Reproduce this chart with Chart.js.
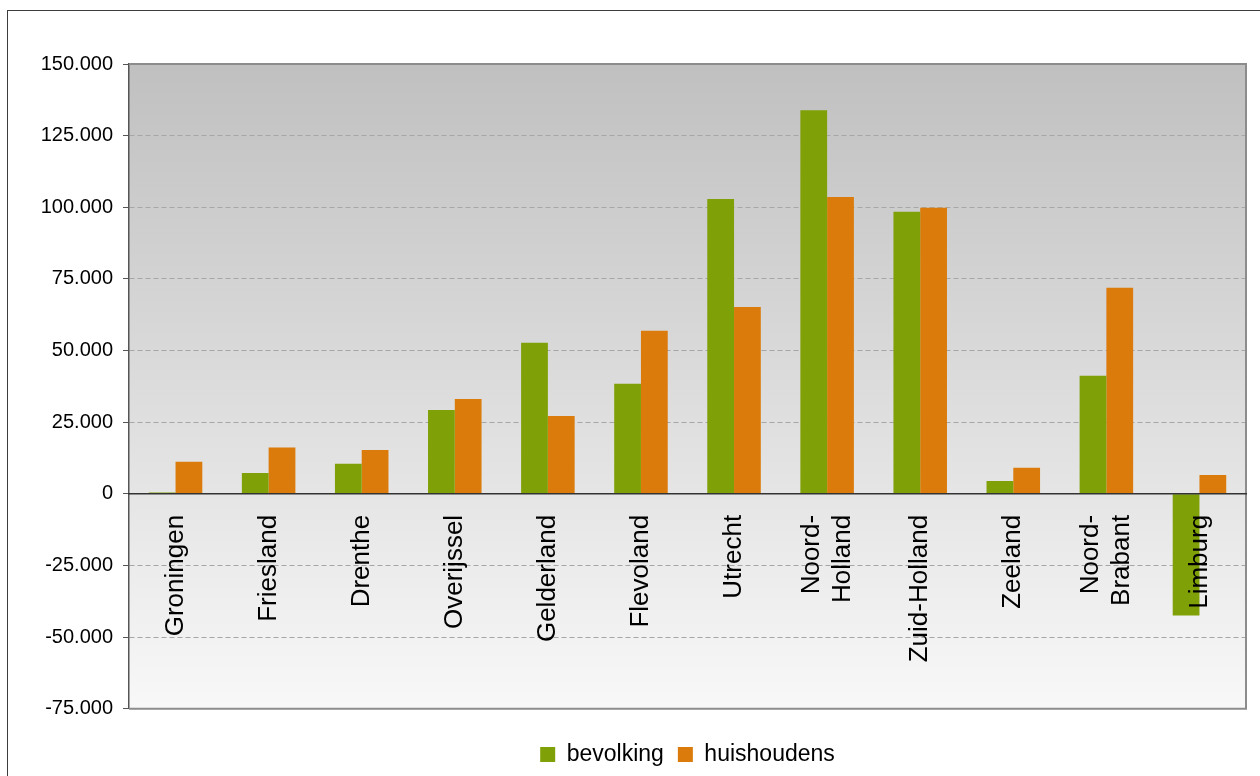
<!DOCTYPE html>
<html>
<head>
<meta charset="utf-8">
<script src="https://cdn.jsdelivr.net/npm/chart.js@4/dist/chart.umd.min.js"></script>
<style>
  html, body { margin: 0; padding: 0; background: #fff; overflow: hidden; }
  #frame { position: absolute; left: 7px; top: 10px; width: 1300px; height: 800px; border: 1px solid #3c3c3c; }
  #groeiChart { position: absolute; left: 0; top: 0; }
</style>
</head>
<body>
<div id="frame"></div>
<canvas id="groeiChart" width="1260" height="776"></canvas>

<script>
// provincies (two-line names are split in arrays)
var provincies = ["Groningen", "Friesland", "Drenthe", "Overijssel", "Gelderland", "Flevoland",
                  "Utrecht", ["Noord-", "Holland"], "Zuid-Holland", "Zeeland", ["Noord-", "Brabant"], "Limburg"];

var bevolking   = [500, 7300, 10500, 29300, 52700, 38400, 102900, 133900, 98400, 4500, 41200, -42400];
var huishoudens = [11200, 16200, 15300, 33100, 27200, 56900, 65200, 103600, 99800, 9100, 71900, 6600];

var yMin = -75000;
var yMax = 150000;
var yStep = 25000;

var labelFont = '26px "Liberation Sans", Arial, sans-serif';
var labelLineHeight = 31;

function formatNL(v) {
    var s = Math.abs(v).toString().replace(/\B(?=(\d{3})+(?!\d))/g, ".");
    return (v < 0 ? "-" : "") + s;
}

// grey gradient behind the plot, then the grey frame on top of the grid
var plotBackground = {
    id: 'plotBackground',
    beforeDraw: function (chart) {
        var a = chart.chartArea, ctx = chart.ctx;
        var g = ctx.createLinearGradient(0, a.top, 0, a.bottom);
        g.addColorStop(0, '#c0c0c0');
        g.addColorStop(1, '#f8f8f8');
        ctx.save();
        ctx.fillStyle = g;
        ctx.fillRect(a.left, a.top, a.right - a.left, a.bottom - a.top);
        ctx.restore();
    },
    beforeDatasetsDraw: function (chart) {
        var a = chart.chartArea, ctx = chart.ctx;
        ctx.save();
        ctx.strokeStyle = '#8c8c8c';
        ctx.lineWidth = 2;
        ctx.beginPath();
        ctx.moveTo(a.left, a.top);
        ctx.lineTo(a.right, a.top);
        ctx.lineTo(a.right, a.bottom);
        ctx.lineTo(a.left, a.bottom);
        ctx.stroke();
        ctx.restore();
    }
};

// province names hang under the zero line, rotated, lines centred on the category
var provinceLabels = {
    id: 'provinceLabels',
    afterDraw: function (chart) {
        var x = chart.scales.x, y = chart.scales.y, ctx = chart.ctx;
        var top = y.getPixelForValue(0) + 21;
        ctx.save();
        ctx.font = labelFont;
        ctx.fillStyle = '#000';
        ctx.textAlign = 'right';
        ctx.textBaseline = 'middle';
        chart.data.labels.forEach(function (lbl, i) {
            var lines = Array.isArray(lbl) ? lbl : [lbl];
            var cx = x.getPixelForTick(i);
            lines.forEach(function (line, j) {
                var off = (j - (lines.length - 1) / 2) * labelLineHeight;
                ctx.save();
                ctx.translate(cx + off, top);
                ctx.rotate(-Math.PI / 2);
                ctx.fillText(line, 0, 0);
                ctx.restore();
            });
        });
        ctx.restore();
    }
};

var chart = document.getElementById('groeiChart').getContext('2d');

var barChart = new Chart(chart, {
    type: 'bar',
    data: {
        labels: provincies,
        datasets: [
            {
                label: "bevolking",
                backgroundColor: "#7fa006",
                data: bevolking
            },
            {
                label: "huishoudens",
                backgroundColor: "#db7b0b",
                data: huishoudens
            }
        ]
    },
    options: {
        responsive: false,
        animation: false,
        layout: { padding: { top: 64, right: 14, left: 0, bottom: 0 } },
        datasets: {
            bar: { categoryPercentage: 0.575, barPercentage: 1.0 }
        },
        scales: {
            x: {
                position: { y: 0 },
                grid: { display: false, drawTicks: false },
                border: { display: true, color: '#333333', width: 1.5, z: 1 },
                ticks: { display: false }
            },
            y: {
                min: yMin,
                max: yMax,
                afterFit: function (scale) { scale.width = 129; },
                grid: {
                    color: '#a6a6a6',
                    lineWidth: 1,
                    tickLength: 6,
                    tickColor: '#555555',
                    tickBorderDash: [0]
                },
                border: { display: true, color: '#555555', width: 1.5, dash: [5, 3] },
                ticks: {
                    stepSize: yStep,
                    padding: 10,
                    color: '#000',
                    font: { family: 'Liberation Sans, Arial, sans-serif', size: 20 },
                    callback: function (value) { return formatNL(value); }
                }
            }
        },
        plugins: {
            tooltip: { enabled: false },
            legend: {
                display: true,
                position: 'bottom',
                fullSize: false,
                title: { display: true, text: '', font: { size: 1 }, padding: { top: 19, bottom: 0 } },
                labels: {
                    boxWidth: 15,
                    boxHeight: 15,
                    padding: 14,
                    color: '#000',
                    font: { family: 'Liberation Sans, Arial, sans-serif', size: 23 }
                }
            }
        }
    },
    plugins: [plotBackground, provinceLabels]
});
</script>
</body>
</html>
